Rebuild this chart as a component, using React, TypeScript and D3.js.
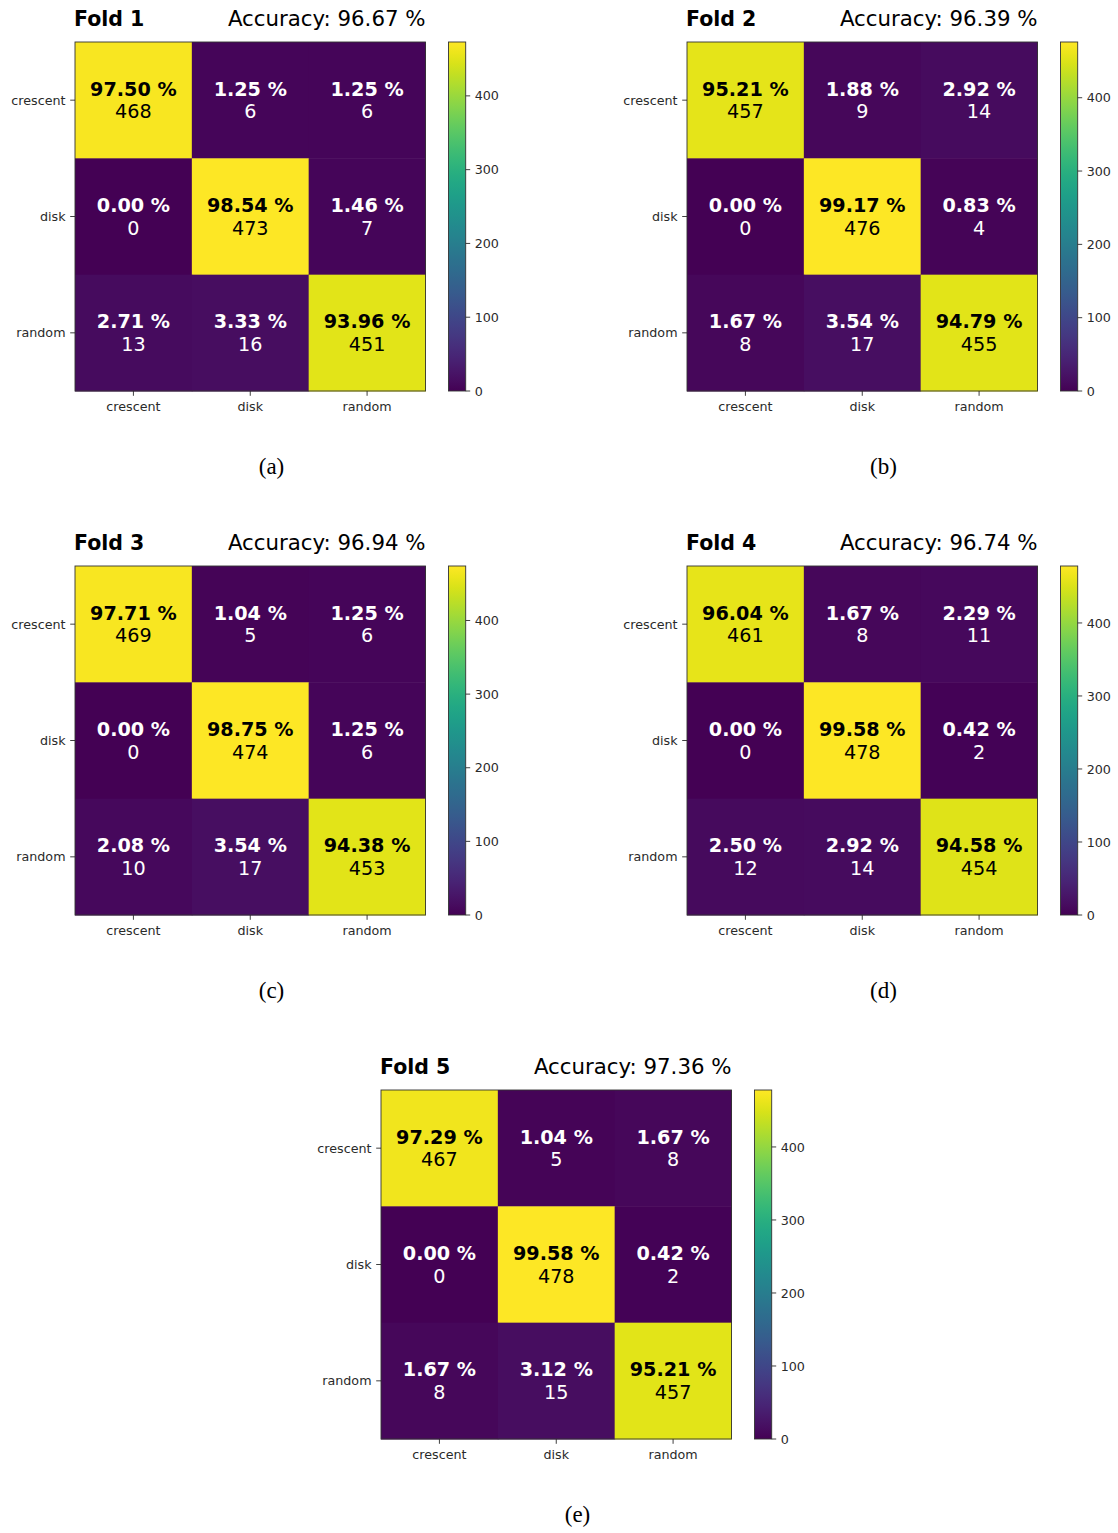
import React from "react";
import * as d3 from "d3";

// Class labels shared by every confusion matrix
const CLASSES = ["crescent", "disk", "random"];

// Per-fold confusion counts (rows = true class, columns = predicted class)
const FOLD1_COUNTS = [
  [468, 6, 6],
  [0, 473, 7],
  [13, 16, 451],
];
const FOLD2_COUNTS = [
  [457, 9, 14],
  [0, 476, 4],
  [8, 17, 455],
];
const FOLD3_COUNTS = [
  [469, 5, 6],
  [0, 474, 6],
  [10, 17, 453],
];
const FOLD4_COUNTS = [
  [461, 8, 11],
  [0, 478, 2],
  [12, 14, 454],
];
const FOLD5_COUNTS = [
  [467, 5, 8],
  [0, 478, 2],
  [8, 15, 457],
];

// Row-normalised percentages printed in each cell
const FOLD1_PERCENTS = [
  ["97.50", "1.25", "1.25"],
  ["0.00", "98.54", "1.46"],
  ["2.71", "3.33", "93.96"],
];
const FOLD2_PERCENTS = [
  ["95.21", "1.88", "2.92"],
  ["0.00", "99.17", "0.83"],
  ["1.67", "3.54", "94.79"],
];
const FOLD3_PERCENTS = [
  ["97.71", "1.04", "1.25"],
  ["0.00", "98.75", "1.25"],
  ["2.08", "3.54", "94.38"],
];
const FOLD4_PERCENTS = [
  ["96.04", "1.67", "2.29"],
  ["0.00", "99.58", "0.42"],
  ["2.50", "2.92", "94.58"],
];
const FOLD5_PERCENTS = [
  ["97.29", "1.04", "1.67"],
  ["0.00", "99.58", "0.42"],
  ["1.67", "3.12", "95.21"],
];

const FOLD_NAMES = ["Fold 1", "Fold 2", "Fold 3", "Fold 4", "Fold 5"];
const FOLD_ACCURACY = ["96.67", "96.39", "96.94", "96.74", "97.36"];
const FOLD_CAPTIONS = ["(a)", "(b)", "(c)", "(d)", "(e)"];
const COLORBAR_TICKS = [0, 100, 200, 300, 400];

const FOLD_COUNTS = [FOLD1_COUNTS, FOLD2_COUNTS, FOLD3_COUNTS, FOLD4_COUNTS, FOLD5_COUNTS];
const FOLD_PERCENTS = [FOLD1_PERCENTS, FOLD2_PERCENTS, FOLD3_PERCENTS, FOLD4_PERCENTS, FOLD5_PERCENTS];

// Top-left corner of each matrix axes on the page
const PANEL_ORIGINS: [number, number][] = [
  [75, 42],
  [687, 42],
  [75, 566],
  [687, 566],
  [381, 1090],
];

const AX_W = 350.5;
const AX_H = 349;
const CB_X = 373.5;
const CB_W = 17.2;
const SANS = "DejaVu Sans, sans-serif";
const TICK_COLOR = "#2a2a2a";
const TICK_FONT = 12.7;
const CELL_FONT = 19.2;

function Colorbar({ vmax, id }: { vmax: number; id: string }) {
  const y = d3.scaleLinear().domain([0, vmax]).range([AX_H, 0]);
  const stops = d3.range(0, 1.0001, 1 / 32);
  return (
    <g transform={`translate(${CB_X},0)`}>
      <defs>
        <linearGradient id={id} x1="0" y1="1" x2="0" y2="0">
          {stops.map((t, i) => (
            <stop key={i} offset={t} stopColor={d3.interpolateViridis(t)} />
          ))}
        </linearGradient>
      </defs>
      <rect x={0} y={0} width={CB_W} height={AX_H} fill={`url(#${id})`} stroke="#333" strokeWidth={0.9} />
      {COLORBAR_TICKS.map((t) => (
        <g key={t} transform={`translate(${CB_W},${y(t)})`}>
          <line x1={0} x2={4.5} y1={0} y2={0} stroke={TICK_COLOR} strokeWidth={0.9} />
          <text x={9} y={0} dy="0.36em" fontFamily={SANS} fontSize={TICK_FONT} fill={TICK_COLOR}>
            {t}
          </text>
        </g>
      ))}
    </g>
  );
}

function Panel({ index }: { index: number }) {
  const counts = FOLD_COUNTS[index];
  const percents = FOLD_PERCENTS[index];
  const [ox, oy] = PANEL_ORIGINS[index];
  const vmax = d3.max(counts.flat()) as number;
  const vmin = 0;
  const color = d3.scaleSequential(d3.interpolateViridis).domain([vmin, vmax]);
  const x = d3.scaleBand().domain(CLASSES).range([0, AX_W]);
  const y = d3.scaleBand().domain(CLASSES).range([0, AX_H]);
  const threshold = (vmax + (d3.min(counts.flat()) as number)) / 2;

  return (
    <g transform={`translate(${ox},${oy})`}>
      <text x={-1} y={-16} fontFamily={SANS} fontWeight="bold" fontSize={20.5} fill="#000">
        {FOLD_NAMES[index]}
      </text>
      <text x={AX_W} y={-16} textAnchor="end" fontFamily={SANS} fontSize={21.3} fill="#000">
        {`Accuracy: ${FOLD_ACCURACY[index]} %`}
      </text>

      {counts.map((row, r) =>
        row.map((v, c) => (
          <rect
            key={`${r}-${c}`}
            x={x(CLASSES[c])}
            y={y(CLASSES[r])}
            width={x.bandwidth() + 0.5}
            height={y.bandwidth() + 0.5}
            fill={color(v)}
          />
        ))
      )}

      {counts.map((row, r) =>
        row.map((v, c) => {
          const cx = (x(CLASSES[c]) as number) + x.bandwidth() / 2;
          const cy = (y(CLASSES[r]) as number) + y.bandwidth() / 2;
          const fill = v > threshold ? "#000" : "#fff";
          return (
            <g key={`t-${r}-${c}`}>
              <text x={cx} y={cy - 4.5} textAnchor="middle" fontFamily={SANS} fontWeight="bold" fontSize={CELL_FONT} fill={fill}>
                {`${percents[r][c]} %`}
              </text>
              <text x={cx} y={cy + 18.1} textAnchor="middle" fontFamily={SANS} fontSize={CELL_FONT} fill={fill}>
                {v}
              </text>
            </g>
          );
        })
      )}

      <rect x={0} y={0} width={AX_W} height={AX_H} fill="none" stroke="#333" strokeWidth={0.9} />

      {CLASSES.map((k) => {
        const cy = (y(k) as number) + y.bandwidth() / 2;
        return (
          <g key={`y-${k}`}>
            <line x1={-4.8} x2={0} y1={cy} y2={cy} stroke={TICK_COLOR} strokeWidth={0.9} />
            <text x={-9.5} y={cy} dy="0.36em" textAnchor="end" fontFamily={SANS} fontSize={TICK_FONT} fill={TICK_COLOR}>
              {k}
            </text>
          </g>
        );
      })}
      {CLASSES.map((k) => {
        const cx = (x(k) as number) + x.bandwidth() / 2;
        return (
          <g key={`x-${k}`}>
            <line x1={cx} x2={cx} y1={AX_H} y2={AX_H + 4.8} stroke={TICK_COLOR} strokeWidth={0.9} />
            <text x={cx} y={AX_H + 19.5} textAnchor="middle" fontFamily={SANS} fontSize={TICK_FONT} fill={TICK_COLOR}>
              {k}
            </text>
          </g>
        );
      })}

      <Colorbar vmax={vmax} id={`cbar-grad-${index}`} />

      <text x={196.5} y={432} textAnchor="middle" fontFamily="Liberation Serif, serif" fontSize={23} fill="#000">
        {FOLD_CAPTIONS[index]}
      </text>
    </g>
  );
}

export default function App() {
  return (
    <svg
      width={1118}
      height={1533}
      viewBox="0 0 1118 1533"
      style={{ position: "absolute", left: 0, top: 0, background: "#fff" }}
    >
      <rect x={0} y={0} width={1118} height={1533} fill="#fff" />
      {FOLD_NAMES.map((_, i) => (
        <Panel key={i} index={i} />
      ))}
    </svg>
  );
}
